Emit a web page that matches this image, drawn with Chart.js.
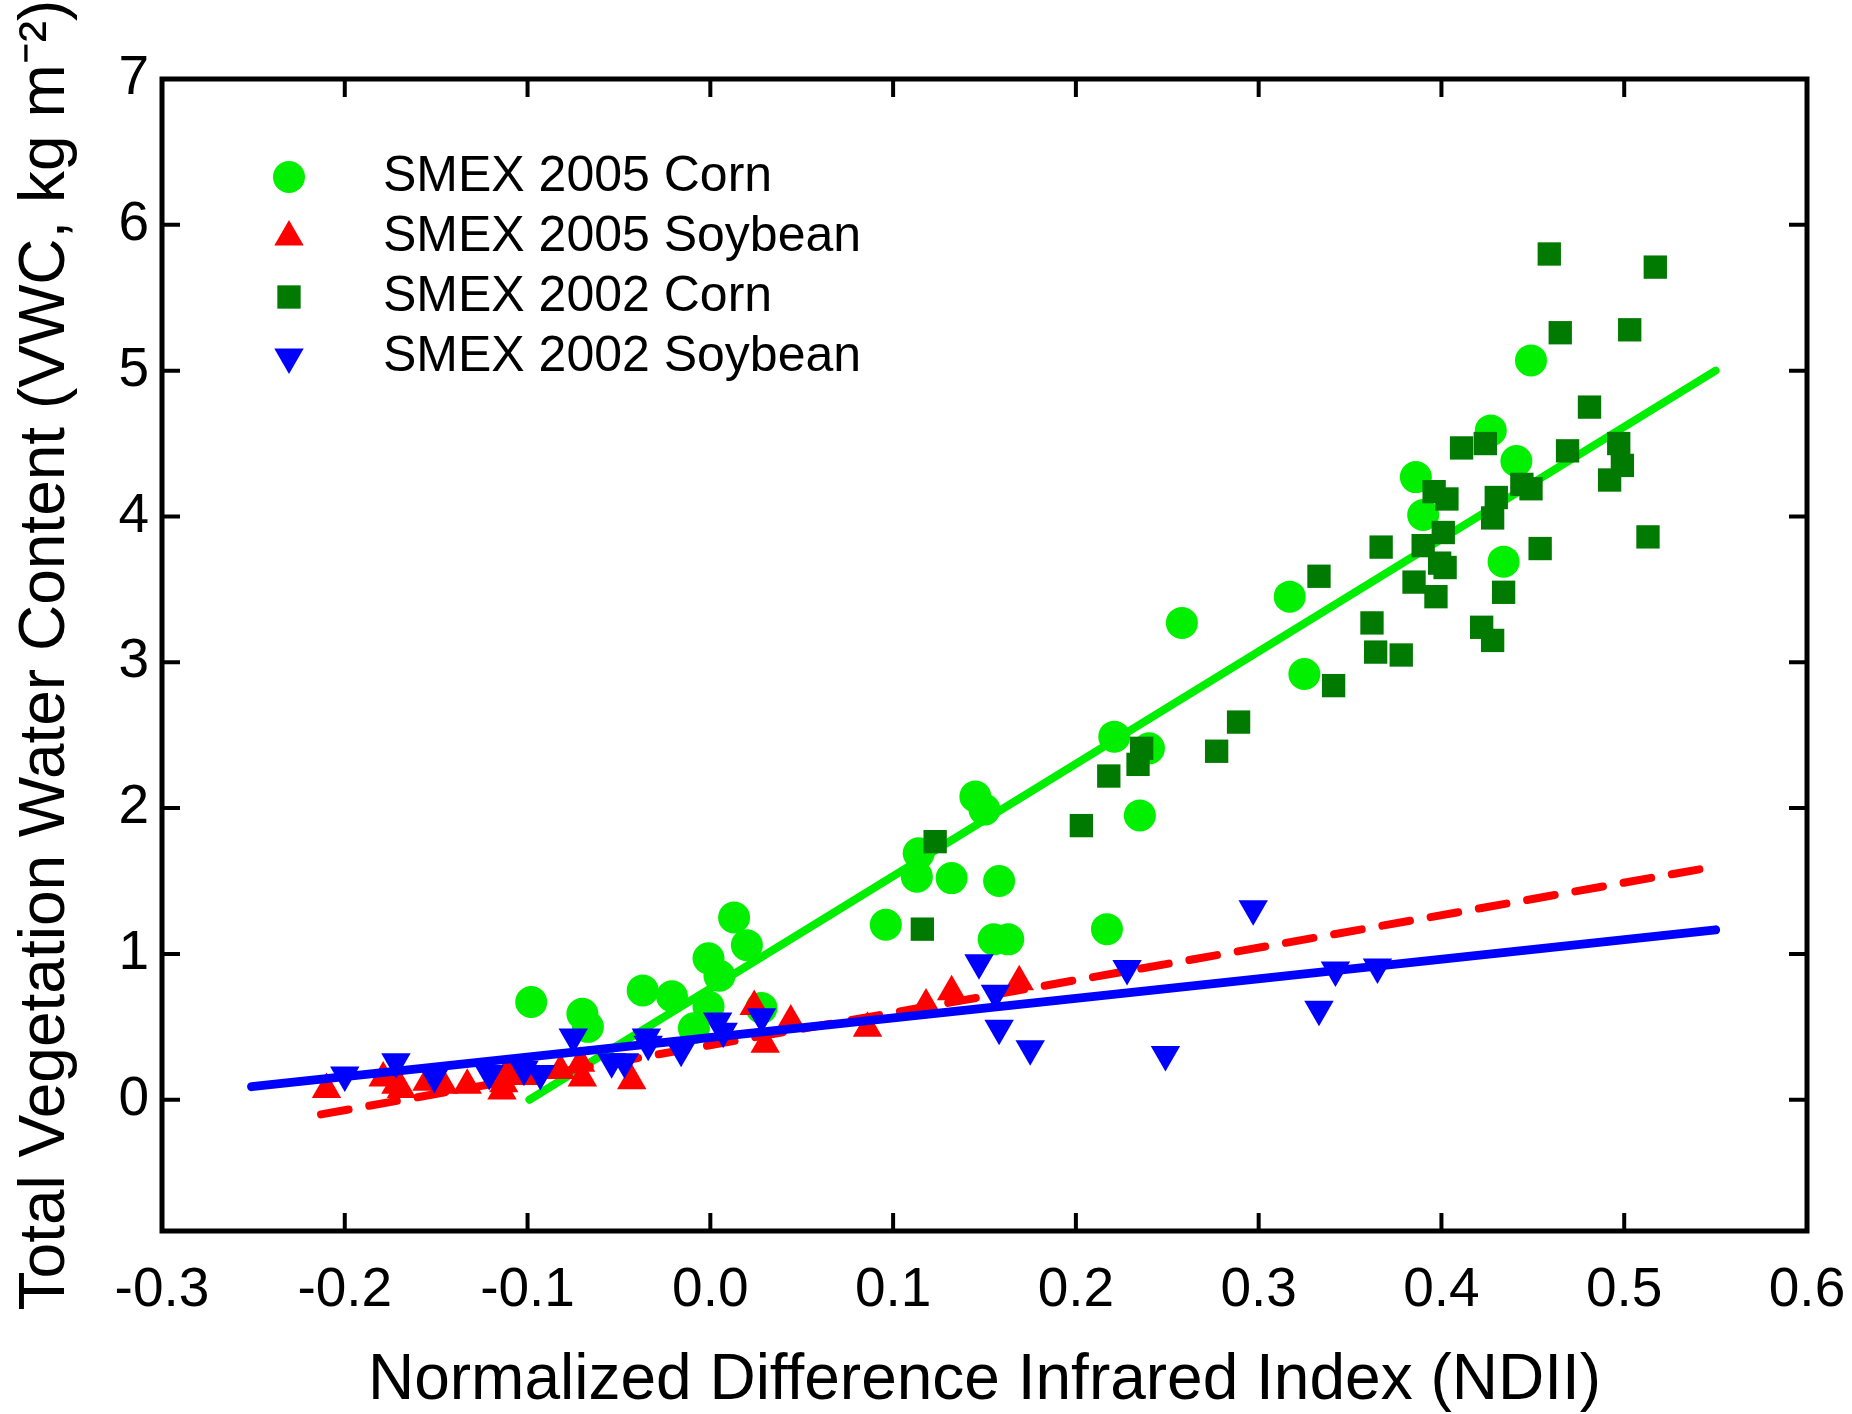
<!DOCTYPE html>
<html>
<head>
<meta charset="utf-8">
<title>VWC vs NDII</title>
<script src="https://cdn.jsdelivr.net/npm/chart.js@4.4.1/dist/chart.umd.min.js"></script>
<style>
  html, body { margin: 0; padding: 0; background: #fff; }
  #wrap { width: 1852px; height: 1414px; }
</style>
</head>
<body>
<div id="wrap"><canvas id="c" width="1852" height="1414"></canvas></div>
<script>
// Values: [NDII, VWC]
const corn2005 = [
  [-0.098, 0.67], [-0.070, 0.59], [-0.067, 0.50], [-0.037, 0.75], [-0.021, 0.71],
  [-0.001, 0.97], [0.005, 0.85], [-0.001, 0.64], [-0.009, 0.49], [0.013, 1.25],
  [0.020, 1.06], [0.028, 0.63], [0.096, 1.20], [0.114, 1.69], [0.113, 1.53],
  [0.132, 1.52], [0.145, 2.08], [0.150, 1.99], [0.158, 1.50], [0.155, 1.10],
  [0.163, 1.10], [0.217, 1.17], [0.221, 2.49], [0.240, 2.41], [0.235, 1.95],
  [0.258, 3.27], [0.317, 3.45], [0.325, 2.92], [0.386, 4.27], [0.390, 4.01],
  [0.427, 4.59], [0.441, 4.38], [0.434, 3.69], [0.449, 5.07]
];
const soy2005 = [
  [-0.210, 0.07], [-0.179, 0.15], [-0.172, 0.10], [-0.169, 0.07], [-0.155, 0.12],
  [-0.146, 0.10], [-0.133, 0.10], [-0.113, 0.11], [-0.114, 0.06], [-0.111, 0.19],
  [-0.100, 0.16], [-0.082, 0.20], [-0.071, 0.25], [-0.070, 0.15], [-0.043, 0.13],
  [0.024, 0.64], [0.030, 0.38], [0.044, 0.54], [0.086, 0.49], [0.118, 0.65],
  [0.132, 0.74], [0.169, 0.81]
];
const corn2002 = [
  [0.116, 1.17], [0.123, 1.77], [0.203, 1.88], [0.218, 2.22], [0.236, 2.41],
  [0.234, 2.30], [0.277, 2.39], [0.289, 2.59], [0.333, 3.59], [0.341, 2.84],
  [0.362, 3.27], [0.364, 3.07], [0.378, 3.05], [0.367, 3.79], [0.385, 3.55],
  [0.390, 3.80], [0.397, 3.45], [0.399, 3.68], [0.402, 3.65], [0.401, 3.89],
  [0.396, 4.17], [0.403, 4.12], [0.411, 4.47], [0.422, 3.24], [0.428, 3.15],
  [0.424, 4.50], [0.428, 3.99], [0.430, 4.13], [0.434, 3.48], [0.444, 4.22],
  [0.449, 4.19], [0.454, 3.78], [0.459, 5.80], [0.465, 5.26], [0.469, 4.45],
  [0.481, 4.75], [0.492, 4.25], [0.497, 4.50], [0.499, 4.35], [0.503, 5.28],
  [0.513, 3.86], [0.517, 5.71]
];
const soy2002 = [
  [-0.200, 0.17], [-0.172, 0.26], [-0.151, 0.16], [-0.121, 0.18], [-0.102, 0.21],
  [-0.093, 0.18], [-0.075, 0.43], [-0.054, 0.26], [-0.047, 0.26], [-0.035, 0.43],
  [-0.034, 0.38], [-0.016, 0.34], [0.004, 0.54], [0.007, 0.47], [0.028, 0.57],
  [0.147, 0.94], [0.156, 0.73], [0.158, 0.49], [0.175, 0.35], [0.228, 0.90],
  [0.249, 0.31], [0.297, 1.31], [0.333, 0.62], [0.342, 0.89], [0.365, 0.91]
];

// regression lines (end points)
const fitCorn2005 = [[-0.099, 0.0], [0.55, 5.0]];
const fitSoy2005 = [[-0.213, -0.10], [0.55, 1.60]];
const fitSoy2002 = [[-0.251, 0.09], [0.55, 1.165]];

const xTicks = [-0.3, -0.2, -0.1, 0.0, 0.1, 0.2, 0.3, 0.4, 0.5, 0.6];
const yTicks = [0, 1, 2, 3, 4, 5, 6, 7];
const xMin = -0.3, xMax = 0.6, yMin = -0.9, yMax = 7;

const xTitle = 'Normalized Difference Infrared Index (NDII)';
const yTitle = 'Total Vegetation Water Content (VWC, kg m\u207B\u00B2)';

const FONT = "'Liberation Sans', Arial, sans-serif";
const TICK_LEN = 18;

const pts = arr => arr.map(([x, y]) => ({ x, y }));

Chart.defaults.font.family = FONT;
Chart.defaults.color = '#000';

// closed frame with inward ticks on all four sides
const framePlugin = {
  id: 'frame',
  afterDatasetsDraw(chart) {
    const { ctx, chartArea: a, scales: { x, y } } = chart;
    ctx.save();
    ctx.strokeStyle = '#000';
    ctx.lineWidth = 4;
    ctx.beginPath();
    for (const v of xTicks) {
      if (v <= xMin || v >= xMax) continue;
      const px = x.getPixelForValue(v);
      ctx.moveTo(px, a.bottom); ctx.lineTo(px, a.bottom - TICK_LEN);
      ctx.moveTo(px, a.top); ctx.lineTo(px, a.top + TICK_LEN);
    }
    for (const v of yTicks) {
      if (v <= yMin || v >= yMax) continue;
      const py = y.getPixelForValue(v);
      ctx.moveTo(a.left, py); ctx.lineTo(a.left + TICK_LEN, py);
      ctx.moveTo(a.right, py); ctx.lineTo(a.right - TICK_LEN, py);
    }
    ctx.stroke();
    ctx.lineWidth = 5;
    ctx.strokeRect(a.left, a.top, a.right - a.left, a.bottom - a.top);
    ctx.restore();
  }
};

// legend inside the plot, top-left
const legendPlugin = {
  id: 'insideLegend',
  afterDraw(chart) {
    const { ctx } = chart;
    const items = chart.data.datasets.filter(d => d.inLegend);
    items.sort((p, q) => p.legendIdx - q.legendIdx);
    ctx.save();
    ctx.font = '50px ' + FONT;
    ctx.textBaseline = 'middle';
    items.forEach((d, i) => {
      const cy = 177 + i * 60;
      ctx.fillStyle = d.backgroundColor;
      Chart.helpers.drawPoint(ctx, {
        pointStyle: d.pointStyle, radius: d.pointRadius,
        rotation: d.pointRotation || 0, borderWidth: 0
      }, 289, cy);
      ctx.fillStyle = '#000';
      ctx.fillText(d.label, 383, cy);
    });
    ctx.restore();
  }
};

const scatterSet = (label, data, style, color, radius, rotation, order, idx) => ({
  type: 'scatter', label, data: pts(data), inLegend: true, legendIdx: idx,
  pointStyle: style, pointRadius: radius, pointHoverRadius: radius,
  pointRotation: rotation, backgroundColor: color, borderColor: color,
  borderWidth: 0, pointBorderWidth: 0, order
});
const lineSet = (data, color, width, dash, order) => ({
  type: 'line', data: pts(data), borderColor: color, borderWidth: width,
  borderDash: dash, borderCapStyle: 'round', pointRadius: 0, fill: false,
  showLine: true, order
});

new Chart(document.getElementById('c'), {
  type: 'scatter',
  data: {
    datasets: [
      scatterSet('SMEX 2005 Corn', corn2005, 'circle', '#00f000', 16, 0, 7, 0),
      lineSet(fitCorn2005, '#00ee00', 8, [], 6),
      scatterSet('SMEX 2005 Soybean', soy2005, 'triangle', '#ff0000', 17, 0, 5, 1),
      lineSet(fitSoy2005, '#ff0000', 8, [28, 21], 4),
      scatterSet('SMEX 2002 Corn', corn2002, 'rect', '#007a00', 16.5, 0, 3, 2),
      scatterSet('SMEX 2002 Soybean', soy2002, 'triangle', '#0000ff', 17, 180, 2, 3),
      lineSet(fitSoy2002, '#0000ff', 9, [], 1)
    ]
  },
  options: {
    responsive: false,
    animation: false,
    devicePixelRatio: 1,
    layout: { padding: { top: 79, right: 45, left: 0, bottom: 0 } },
    plugins: { legend: { display: false }, tooltip: { enabled: false } },
    scales: {
      x: {
        type: 'linear', min: xMin, max: xMax,
        afterBuildTicks: s => { s.ticks = xTicks.map(v => ({ value: v })); },
        afterFit: s => { s.height = 183; s.paddingLeft = 0; s.paddingRight = 0; },
        grid: { display: false, drawTicks: false },
        border: { display: false },
        ticks: {
          autoSkip: false, maxRotation: 0, padding: 27,
          font: { size: 55 }, color: '#000',
          callback: v => Number(v).toFixed(1)
        },
        title: {
          display: true, text: xTitle, color: '#000',
          font: { size: 64, lineHeight: 1 }, padding: { top: 0, bottom: 1 }
        }
      },
      y: {
        type: 'linear', min: yMin, max: yMax,
        afterBuildTicks: s => { s.ticks = yTicks.map(v => ({ value: v })); },
        afterFit: s => { s.width = 162; s.paddingTop = 0; s.paddingBottom = 0; },
        grid: { display: false, drawTicks: false },
        border: { display: false },
        ticks: {
          autoSkip: false, padding: 13,
          font: { size: 55 }, color: '#000',
          callback: v => String(v)
        },
        title: {
          display: true, text: yTitle, color: '#000',
          font: { size: 64, lineHeight: 1 }, padding: { top: 14, bottom: 0 }
        }
      }
    }
  },
  plugins: [framePlugin, legendPlugin]
});
</script>
</body>
</html>
